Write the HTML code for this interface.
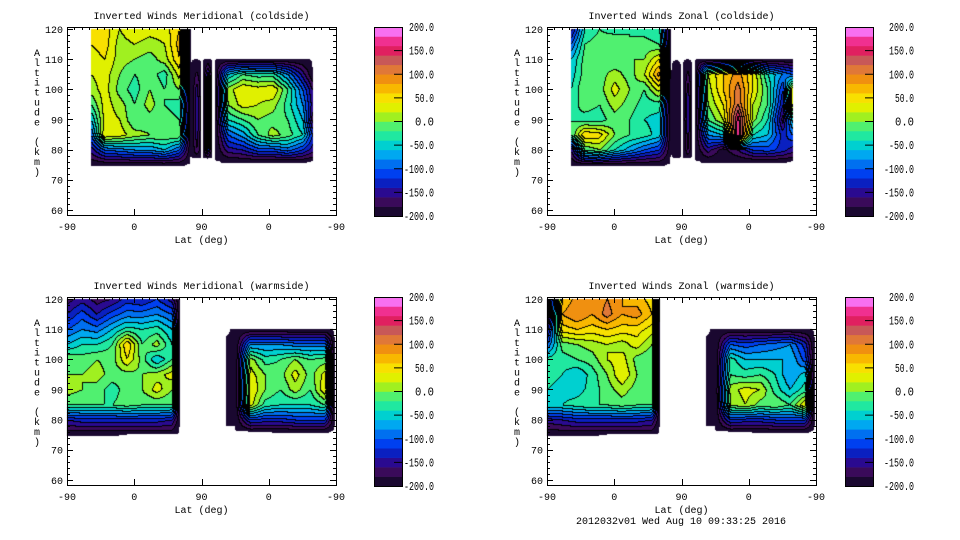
<!DOCTYPE html>
<html><head><meta charset="utf-8">
<style>
html,body{margin:0;padding:0;background:#fff;}
#wrap{position:relative;width:960px;height:540px;overflow:hidden;}
canvas,svg{position:absolute;left:0;top:0;}
text{font-family:"Liberation Mono","DejaVu Sans Mono",monospace;font-size:10px;fill:#000;}
text.cb{font-size:11.5px;}
</style></head>
<body>
<div id="wrap">
<canvas id="cv" width="960" height="540"></canvas>
<svg id="sv" width="960" height="540" xmlns="http://www.w3.org/2000/svg"></svg>
</div>
<script>
const bandColors = ["#1a0830","#3a0a5a","#2a0a90","#0a20c0","#0040f0","#0070f0","#00a8f0","#00d0d0","#20e8a0","#50f070",
"#a0f020","#e0f000","#f8e000","#f8b800","#f09010","#e07838","#c85858","#e02060","#f03090","#f870f0"];
const cbTickValues = [200,150,100,50,0,-50,-100,-150,-200];
const xTickLabels = ["-90","0","90","0","-90"];
const xTickPos = [0,90,180,270,360];
const yTickValues = [60,70,80,90,100,110,120];

// values below -199.5 are "no data" (white)
const mcL_cols = [32,50,70,90,110,130,150,165];
const mcL_alts = [120,115,110,105,100,95,90,85,80,75];
const mcL_vals = [
[40,50,20,40,30,30,60,-199],[40,50,10,20,10,20,70,-199],[30,40,10,0,-10,10,60,-199],[20,30,0,-20,-10,-30,30,-199],
[10,30,-10,-30,0,-20,0,-199],[-20,30,10,-20,10,-20,-30,-199],[-60,30,20,-20,-10,-10,-20,-199],[-100,40,30,10,0,0,0,-199],
[-150,-100,-90,-80,-80,-60,-100,-199],[-199,-199,-199,-199,-199,-199,-199,-200]];
const mcS1_cols = [166,173,180];
const mcS1_alts = [110,100,90,80,77];
const mcS1_vals = [[-200,-200,-200],[-200,-150,-200],[-200,-140,-200],[-200,-160,-200],[-200,-200,-200]];
const mcS2_cols = [182,188,194];
const mcS2_alts = [110,100,90,80,77];
const mcS2_vals = [[-200,-200,-200],[-200,-60,-200],[-200,-70,-200],[-200,-120,-200],[-200,-200,-200]];
const mcR_cols = [198,215,235,255,275,295,315,328];
const mcR_alts = [110,105,100,95,90,85,80,76];
const mcR_vals = [
[-200,-199,-199,-199,-199,-199,-199,-200],[-199,-60,-20,-30,-30,-80,-150,-199],[-199,10,40,30,40,-20,-100,-160],
[-199,0,30,20,10,-30,-80,-150],[-199,-40,-20,0,-10,-20,-60,-170],[-199,-100,-70,-20,10,-10,-40,-120],
[-199,-150,-140,-110,-110,-90,-120,-150],[-200,-199,-199,-199,-199,-199,-199,-200]];
const zcL_vals = [
[-150,-40,-20,-30,-20,-30,-40,-199],[-100,-20,-10,0,-20,-10,-20,-199],[-60,-10,-10,-20,0,0,40,-199],[-50,-10,-10,10,-10,20,90,-199],
[-40,0,-10,30,0,-20,30,-199],[-30,-10,-20,10,-10,-30,-30,-199],[-20,-30,-30,-10,-20,-40,-50,-199],[-20,60,50,0,-20,-30,-50,-199],
[-160,-20,0,-40,-70,-100,-120,-199],[-199,-199,-199,-199,-199,-199,-199,-200]];
const zcS1_vals = [[-200,-200,-200],[-200,-185,-200],[-200,-180,-200],[-200,-185,-200],[-200,-200,-200]];
const zcS2_vals = [[-200,-200,-200],[-200,-150,-200],[-200,-140,-200],[-200,-160,-200],[-200,-200,-200]];
const zcR_vals = [
[-200,-199,-199,-199,-199,-199,-199,-200],[-199,20,60,90,40,-40,-80,-100],[-199,10,60,110,40,-20,-120,40],
[-199,0,40,120,20,-20,-140,30],[-199,-20,20,170,10,-40,-170,-50],[-199,-80,-60,180,-40,-60,-130,-100],
[-199,-150,-190,-160,-120,-110,-130,-150],[-200,-199,-199,-199,-199,-199,-199,-200]];
const wL_cols = [0,20,40,60,80,100,120,140,150];
const wL_alts = [120,115,110,105,100,95,90,85,80,75];
const mwL_vals = [
[-170,-150,-170,-160,-130,-140,-120,-150,-199],[-140,-110,-140,-110,-90,-90,-80,-100,-199],[-100,-80,-90,-60,-30,-40,-30,-60,-199],
[-60,-40,-40,-20,60,-20,10,-40,-199],[0,-10,0,-10,40,-10,-60,-20,-199],[0,0,10,-10,-10,0,10,30,-199],
[10,0,-10,-30,-10,0,30,0,-199],[-20,-20,-20,-20,-10,-20,-20,-20,-199],[-140,-130,-130,-130,-130,-130,-130,-140,-199],
[-199,-199,-199,-199,-200,-200,-200,-200,-200]];
const wR_cols = [213,225,245,265,285,305,325,345,357];
const wR_alts = [110,105,100,95,90,85,80,76];
const mwR_vals = [
[-200,-199,-199,-199,-199,-199,-199,-199,-200],[-199,-199,-80,-80,-80,-90,-90,-90,-199],[-199,-199,10,-30,-20,0,-20,-10,-199],
[-199,-199,30,0,-10,30,-10,30,-199],[-199,-199,40,0,-20,10,-20,40,-199],[-199,-199,30,-30,-40,-40,-40,-20,-199],
[-199,-199,-120,-130,-130,-120,-120,-120,-199],[-200,-200,-200,-200,-199,-199,-199,-199,-200]];
const zwL_vals = [
[-199,60,90,80,100,80,70,50,-199],[-199,80,100,80,110,80,90,60,-199],[-150,50,60,50,60,50,50,30,-199],
[-100,-10,0,10,20,10,30,0,-199],[-30,-30,-20,-10,20,30,-10,-20,-199],[-30,-40,-60,-30,0,40,0,-20,-199],
[-40,-50,-50,-30,-10,10,-10,-20,-199],[-40,-40,-30,-20,-20,-10,-20,-20,-199],[-150,-140,-130,-130,-130,-130,-130,-140,-199],
[-199,-199,-199,-199,-200,-200,-200,-200,-200]];
const zwR_vals = [
[-200,-199,-199,-199,-199,-199,-199,-199,-200],[-199,-199,-100,-110,-100,-90,-80,-130,-199],[-199,-199,-30,-60,-60,-60,-60,-110,-199],
[-199,-199,-20,-30,-20,-40,-80,-50,-199],[-199,-199,10,30,20,-30,-60,-30,-199],[-199,-199,0,20,-10,0,-20,40,-199],
[-199,-199,-120,-130,-130,-120,-120,-120,-199],[-200,-200,-200,-200,-199,-199,-199,-199,-200]];

const panels = [
 {name:"meridional-coldside",title:"Inverted Winds Meridional (coldside)",x0:67,y0:27,cbx:374,lblEnd:434,
  blocks:[[mcL_cols,mcL_alts,mcL_vals],[mcS1_cols,mcS1_alts,mcS1_vals],[mcS2_cols,mcS2_alts,mcS2_vals],[mcR_cols,mcR_alts,mcR_vals]]},
 {name:"zonal-coldside",title:"Inverted Winds Zonal (coldside)",x0:547,y0:27,cbx:845,lblEnd:914,
  blocks:[[mcL_cols,mcL_alts,zcL_vals],[mcS1_cols,mcS1_alts,zcS1_vals],[mcS2_cols,mcS2_alts,zcS2_vals],[mcR_cols,mcR_alts,zcR_vals]]},
 {name:"meridional-warmside",title:"Inverted Winds Meridional (warmside)",x0:67,y0:297,cbx:374,lblEnd:434,
  blocks:[[wL_cols,wL_alts,mwL_vals],[wR_cols,wR_alts,mwR_vals]]},
 {name:"zonal-warmside",title:"Inverted Winds Zonal (warmside)",x0:547,y0:297,cbx:845,lblEnd:914,
  blocks:[[wL_cols,wL_alts,zwL_vals],[wR_cols,wR_alts,zwR_vals]]}
];

const W=269,H=188;
function hex(c){return [parseInt(c.substr(1,2),16),parseInt(c.substr(3,2),16),parseInt(c.substr(5,2),16)];}
const rgb = bandColors.map(hex);
const cv=document.getElementById('cv'),ctx=cv.getContext('2d');
const img=ctx.createImageData(960,540);
for(let i=0;i<img.data.length;i++) img.data[i]=255;
const NS="http://www.w3.org/2000/svg",sv=document.getElementById('sv');
function mk(tag,attrs,parent){const e=document.createElementNS(NS,tag);for(const k in attrs)e.setAttribute(k,attrs[k]);(parent||sv).appendChild(e);return e;}
function seg(arr,v,desc){
  for(let i=0;i<arr.length-1;i++){const a=arr[i],b=arr[i+1];
    if(desc? (v<=a&&v>=b):(v>=a&&v<=b)){return [i,(v-a)/(b-a)];}}
  return v<(desc?arr[arr.length-1]:arr[0])? (desc?[arr.length-2,1]:[0,0]) : (desc?[0,0]:[arr.length-2,1]);
}
panels.forEach(p=>{
  const xS=u=>p.x0+u*W/360;
  const yS=a=>p.y0+H-(a-58.3)*(H/62.3);
  const uInv=x=>(x-p.x0)*360/W;
  const aInv=y=>58.3+(p.y0+H-y)*62.3/H;
  p.blocks.forEach(bl=>{
    const [cols,alts,vals]=bl;
    const xa=Math.round(xS(cols[0])),xb=Math.min(p.x0+W-1,Math.round(xS(cols[cols.length-1])));
    const ya=Math.round(yS(alts[0])),yb=Math.round(yS(alts[alts.length-1]));
    const bw=xb-xa+1,bh=yb-ya+1,band=new Int8Array(bw*bh);
    for(let y=ya;y<=yb;y++)for(let x=xa;x<=xb;x++){
      const [i,t]=seg(cols,uInv(x+0.5),false),[j,s]=seg(alts,aInv(y+0.5),true);
      const v=(1-t)*(1-s)*vals[j][i]+t*(1-s)*vals[j][i+1]+(1-t)*s*vals[j+1][i]+t*s*vals[j+1][i+1];
      band[(y-ya)*bw+(x-xa)]= v< -199.5 ? -1 : Math.max(0,Math.min(19,Math.floor((v+200)/20)));
    }
    for(let y=ya;y<=yb;y++)for(let x=xa;x<=xb;x++){
      const k=(y-ya)*bw+(x-xa),b=band[k];
      if(b<0) continue;
      let line=false;
      if(x>xa&&band[k-1]!==b&&band[k-1]>=0)line=true;
      if(y>ya&&band[k-bw]!==b&&band[k-bw]>=0)line=true;
      const c=line?[0,0,0]:rgb[b],o=(y*960+x)*4;
      img.data[o]=c[0];img.data[o+1]=c[1];img.data[o+2]=c[2];
    }
  });
  for(let b=0;b<20;b++){
    const r=mk('rect',{x:p.cbx,y:p.y0+189-(b+1)*189/20,width:28,height:189/20+0.3,fill:bandColors[b]});
    
    
  }
  const g=mk('g',{});
  
  
  mk('rect',{x:p.cbx+0.5,y:p.y0+0.5,width:28,height:189,fill:'none',stroke:'#000'},g);
  cbTickValues.forEach(v=>{
    const y=p.y0+(200-v)/400*189;
    if(v<200&&v>-200) mk('line',{x1:p.cbx+20,x2:p.cbx+28,y1:y,y2:y,stroke:'#000'},g);
    const s=v.toFixed(1);
    const L=s.length===5?25:s.length===6?30:19;
    const t=mk('text',{class:'cb',x:p.lblEnd-L,y:y+4,textLength:L,lengthAdjust:'spacingAndGlyphs'},g);t.textContent=s;
    
    
  });
  mk('rect',{x:p.x0+0.5,y:p.y0+0.5,width:W,height:H,fill:'none',stroke:'#000'},g);
  for(let u=0;u<=360;u+=10){const x=Math.round(xS(u))+0.5,maj=u%90===0;
    mk('line',{x1:x,x2:x,y1:p.y0,y2:p.y0+(maj?6:3),stroke:'#000'},g);
    if(maj) mk('line',{x1:x,x2:x,y1:p.y0+H,y2:p.y0+H-6,stroke:'#000'},g);}
  for(let a=60;a<=120;a+=2){const y=Math.round(yS(a))+0.5,maj=a%10===0,L=maj?6:3;
    mk('line',{x1:p.x0,x2:p.x0+L,y1:y,y2:y,stroke:'#000'},g);
    mk('line',{x1:p.x0+W,x2:p.x0+W-L,y1:y,y2:y,stroke:'#000'},g);}
  xTickPos.forEach((u,i)=>{const t=mk('text',{x:xS(u),y:p.y0+H+15,'text-anchor':'middle'},g);t.textContent=xTickLabels[i];
    
    });
  yTickValues.forEach(a=>{const t=mk('text',{x:p.x0-4,y:yS(a)+4,'text-anchor':'end'},g);t.textContent=a;
    
    });
  const xt=mk('text',{x:p.x0+W/2,y:p.y0+H+28,'text-anchor':'middle'},g);xt.textContent="Lat (deg)";
  
  
  const tt=mk('text',{x:p.x0+W/2,y:p.y0-8,'text-anchor':'middle'},g);tt.textContent=p.title;
  
  
  const yl="Altitude (km)";
  const yg=mk('text',{x:p.x0-30,y:p.y0+29,'text-anchor':'middle'},g);
  
  
  [...yl].forEach((ch,i)=>{const s=mk('tspan',{x:p.x0-30,y:p.y0+29+i*9.9},yg);s.textContent=ch===' '?'\u00a0':ch;});
});
ctx.putImageData(img,0,0);
const ft=mk('text',{x:681,y:524,'text-anchor':'middle'});ft.textContent="2012032v01 Wed Aug 10 09:33:25 2016";


</script>
</body></html>
